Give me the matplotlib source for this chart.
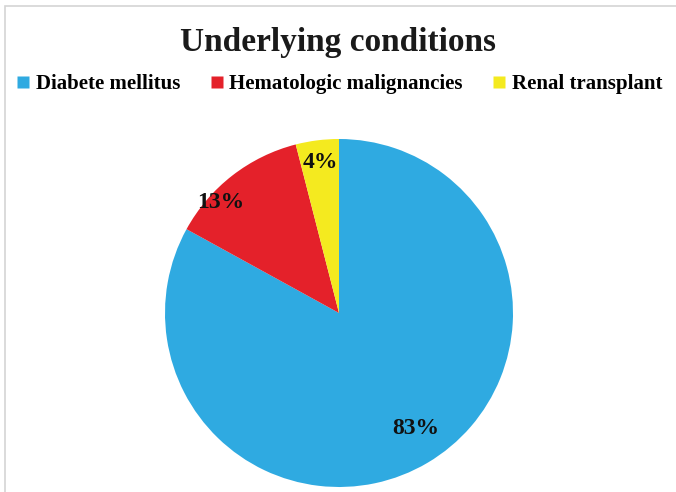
import numpy as np
import matplotlib

matplotlib.use("Agg")
import matplotlib.pyplot as plt
from matplotlib.patches import Rectangle
from matplotlib.lines import Line2D

categories = ["Diabete mellitus", "Hematologic malignancies", "Renal transplant"]
shares = [83, 13, 4]
colors = ["#2faae1", "#e4212a", "#f4ea1f"]
title = "Underlying conditions"

# percent label placement: fraction of radius, and a small angular nudge (deg)
label_dist = [0.80, 0.93, 0.87]
label_nudge = [3, 9, 0]

plt.rcParams["font.family"] = ["Liberation Serif", "DejaVu Serif"]

W, H = 676, 492
fig = plt.figure(figsize=(W / 100, H / 100), dpi=100)

# thin grey frame; only the top and left edges show in the crop
fig.patches.append(
    Rectangle((5 / W, -0.05), 1.1, 1.05 - 6 / H, transform=fig.transFigure,
              fill=False, edgecolor="#d4d4d4", linewidth=1.2)
)

fig.text(0.5, 1 - 42 / H, title, ha="center", va="center",
         fontsize=24, fontweight="bold", color="#1a1a1a")

cx, cy, r = 339, 313, 174
ax = fig.add_axes([(cx - r) / W, (H - cy - r) / H, 2 * r / W, 2 * r / H])
wedges, _ = ax.pie(shares, colors=colors, startangle=90, counterclock=False,
                   radius=1, wedgeprops=dict(linewidth=0))
ax.set_xlim(-1, 1)
ax.set_ylim(-1, 1)
ax.set_aspect("equal")
ax.axis("off")

for w, val, d, nudge in zip(wedges, shares, label_dist, label_nudge):
    mid = np.deg2rad((w.theta1 + w.theta2) / 2 + nudge)
    ax.text(d * np.cos(mid), d * np.sin(mid), f"{val}%", ha="center", va="center",
            fontsize=17, fontweight="bold", color="#111111")

handles = [Line2D([], [], marker="s", linestyle="none", markersize=9,
                  markerfacecolor=c, markeredgecolor="none") for c in colors]
fig.legend(handles, categories, loc="center", bbox_to_anchor=(0.503, 1 - 84 / H),
           ncol=3, frameon=False, handlelength=0.5, handletextpad=0.35,
           columnspacing=1.5, prop=dict(size=15, weight="bold"))

fig.savefig("out.png", dpi=100, facecolor="white")
